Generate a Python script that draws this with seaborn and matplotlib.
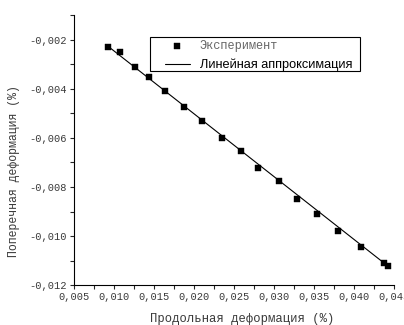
import numpy as np
import pandas as pd
import matplotlib
matplotlib.use("Agg")
import matplotlib.pyplot as plt
import matplotlib.ticker as mticker
from matplotlib.patches import Rectangle
from matplotlib.font_manager import FontProperties
import seaborn as sns

# Experimental points (longitudinal vs transverse strain, %)
exp_x = [0.00929, 0.01071, 0.01259, 0.01441, 0.01641, 0.01871, 0.02100, 0.02346, 0.02584,
         0.02804, 0.03059, 0.03284, 0.03541, 0.03804, 0.04084, 0.04375, 0.04421]
exp_y = [-0.00227, -0.00250, -0.00310, -0.00352, -0.00407, -0.00473, -0.00531, -0.00601, -0.00654,
         -0.00724, -0.00776, -0.00847, -0.00911, -0.00978, -0.01044, -0.01109, -0.01122]

# Linear approximation endpoints
fit_x = [0.0090, 0.0445]
fit_y = [-0.00219, -0.01129]

x_label = "Продольная деформация (%)"
y_label = "Поперечная деформация (%)"
legend_labels = ["Эксперимент", "Линейная аппроксимация"]

sns.set_style("ticks")
plt.rcParams['font.family'] = ['Liberation Mono', 'DejaVu Sans Mono']
text_color = "#3a3a3a"

df_exp = pd.DataFrame({"x": exp_x, "y": exp_y})
df_fit = pd.DataFrame({"x": fit_x, "y": fit_y})

fig = plt.figure(figsize=(4.04, 3.25), dpi=100)
ax = fig.add_axes([0.183, 0.123, 0.792, 0.831])

sns.lineplot(data=df_fit, x="x", y="y", ax=ax, color="black", linewidth=0.8,
             label=legend_labels[1], zorder=2)
sns.scatterplot(data=df_exp, x="x", y="y", ax=ax, marker="s", color="black",
                s=22, edgecolor="black", linewidth=0.3, label=legend_labels[0], zorder=3)

ax.set_xlim(0.005, 0.045)
ax.set_ylim(-0.012, -0.00098)
ax.xaxis.set_major_locator(mticker.MultipleLocator(0.005))
ax.xaxis.set_minor_locator(mticker.MultipleLocator(0.0025))
ax.yaxis.set_major_locator(mticker.MultipleLocator(0.002))
ax.yaxis.set_minor_locator(mticker.MultipleLocator(0.001))

fmt = mticker.FuncFormatter(lambda v, p: f"{v:.3f}".replace(".", ","))
ax.xaxis.set_major_formatter(fmt)
ax.yaxis.set_major_formatter(fmt)

ax.tick_params(which="major", direction="out", length=3, width=0.8,
               labelsize=7.5, labelcolor=text_color, pad=2)
ax.tick_params(which="minor", direction="out", length=3, width=0.8)

for side in ["top", "right"]:
    ax.spines[side].set_visible(False)
for side in ["left", "bottom"]:
    ax.spines[side].set_linewidth(0.8)
    ax.spines[side].set_color("black")

ax.set_xlabel(x_label, fontsize=8.8, color=text_color)
ax.set_ylabel(y_label, fontsize=8.3, color=text_color)
ax.xaxis.set_label_coords(0.525, -0.105)
ax.yaxis.set_label_coords(-0.17, 0.422)

handles, labels = ax.get_legend_handles_labels()
order = [labels.index(legend_labels[0]), labels.index(legend_labels[1])]
leg = ax.legend([handles[i] for i in order], [labels[i] for i in order],
                loc="upper left", bbox_to_anchor=(0.284, 0.906), frameon=False,
                borderaxespad=0, borderpad=0, fontsize=9, handlelength=2.0,
                labelspacing=0.5, handletextpad=0.8)
texts = leg.get_texts()
texts[0].set_fontproperties(FontProperties(family=["Liberation Mono", "DejaVu Sans Mono"], size=8.6))
texts[0].set_color("#666666")
texts[1].set_fontproperties(FontProperties(family=["Liberation Sans", "DejaVu Sans"], size=9.2))
texts[1].set_color("black")

# legend frame drawn as a plain box
ax.add_patch(Rectangle((0.2375, 0.7926), 0.656, 0.126, transform=ax.transAxes,
                       facecolor="white", edgecolor="black", linewidth=0.8,
                       zorder=4, clip_on=False))
leg.set_zorder(5)

fig.savefig("out.png", dpi=100)
